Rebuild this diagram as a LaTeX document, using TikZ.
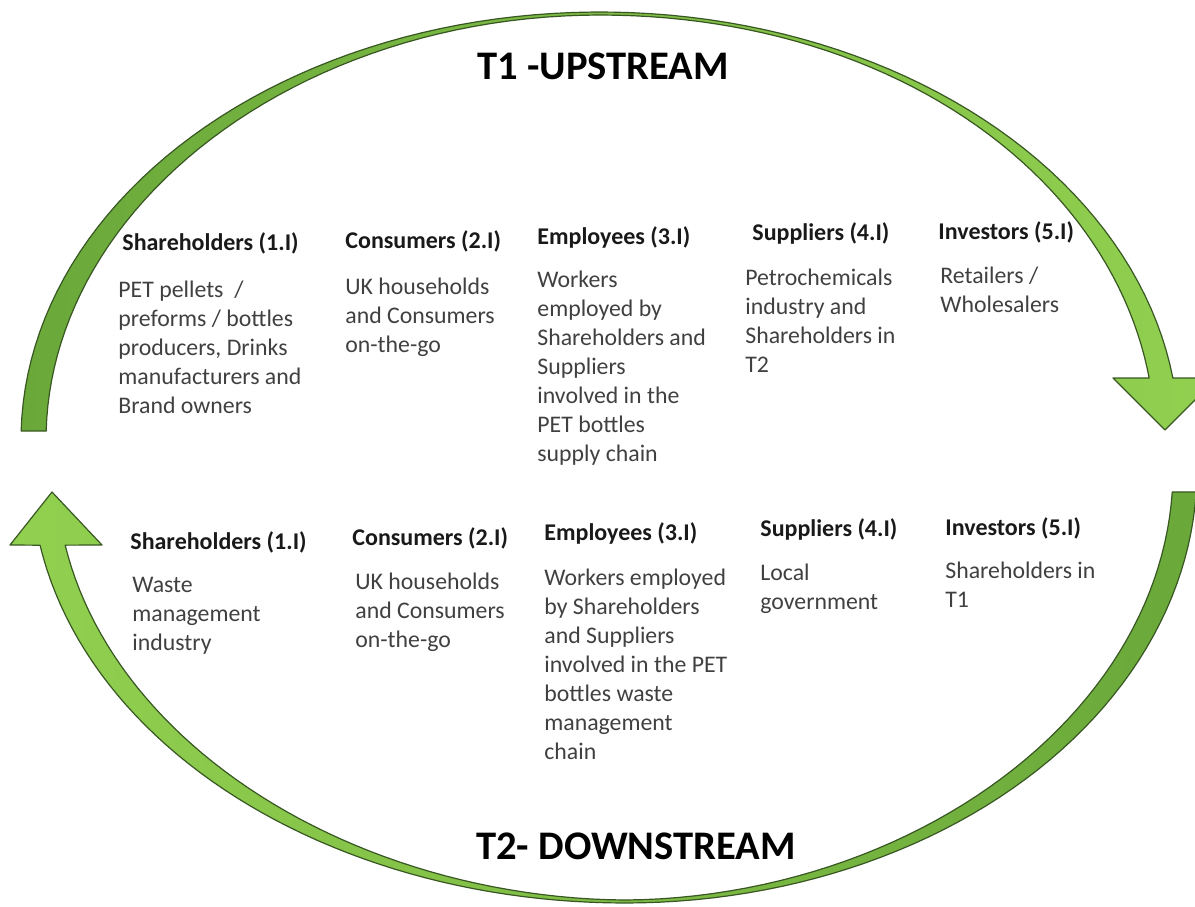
\documentclass[tikz,border=0pt]{standalone}
\usepackage{fontspec}
\setmainfont{Carlito}
\definecolor{dkgreen}{RGB}{106,168,58}
\definecolor{ltgreen}{RGB}{146,208,80}
\definecolor{edgegreen}{RGB}{56,87,35}
\definecolor{bodygray}{RGB}{64,64,64}
\begin{document}
\begin{tikzpicture}[x=0.5pt,y=-0.5pt,
  band/.style={draw=edgegreen,line width=0.6pt,line join=round},
  head/.style={anchor=base west,inner sep=0pt,font=\fontsize{12}{14.5}\selectfont\bfseries,text=black!90},
  body/.style={anchor=north west,inner sep=0pt,align=left,font=\fontsize{11.9}{14.5}\selectfont,text=bodygray},
  title/.style={anchor=base,inner sep=0pt,font=\fontsize{20.3}{24}\selectfont\bfseries,text=black}]
\useasboundingbox (0,0) rectangle (1195,906);
\clip (0,0) rectangle (1195,906);
% top band (T1 upstream): outer ellipse centre (600,440), radii 579 x 428
\shadedraw[band,left color=dkgreen,right color=ltgreen]
  plot[domain=178.8:8.33,samples=90,variable=\t] ({600+579*cos(\t)},{440-428*sin(\t)})
  -- (1217,378) -- (1165,430) -- (1113,378)
  -- plot[domain=8.81:90,samples=50,variable=\t] ({600+(579-(3+21*pow(abs(cos(\t)),3)))*cos(\t)},{440-(428-(3+21*pow(abs(cos(\t)),3)))*sin(\t)})
  -- plot[domain=90:178.72,samples=50,variable=\t] ({600+(579-(3+22*pow(cos(\t),2)))*cos(\t)},{440-(428-(3+22*pow(cos(\t),2)))*sin(\t)})
  -- cycle;
% bottom band (T2 downstream): outer ellipse centre (625,470)
\shadedraw[band,left color=ltgreen,right color=dkgreen]
  plot[domain=2.91:90,samples=50,variable=\t] ({625+572*cos(\t)},{470+433*sin(\t)})
  -- plot[domain=90:170,samples=50,variable=\t] ({625+594*cos(\t)},{470+433*sin(\t)})
  -- (10,545) -- (52,492) -- (102,545)
  -- plot[domain=169.4:90,samples=50,variable=\t] ({625+(594-(3+22*pow(abs(cos(\t)),1.5)))*cos(\t)},{470+(433-(3+22*pow(abs(cos(\t)),1.5)))*sin(\t)})
  -- plot[domain=90:3.08,samples=50,variable=\t] ({625+(572-(3+21*pow(abs(cos(\t)),1.5)))*cos(\t)},{470+(433-(3+21*pow(abs(cos(\t)),1.5)))*sin(\t)})
  -- cycle;
% titles
\node[title] (t1) at (603,79) {T1 -UPSTREAM};
\node[title] (t2) at (636,859) {T2- DOWNSTREAM};
% top row
\node[head] (h11) at (122,250) {Shareholders (1.I)};
\node[head] (h12) at (345,248) {Consumers (2.I)};
\node[head] (h13) at (537,244) {Employees (3.I)};
\node[head] (h14) at (752,240) {Suppliers (4.I)};
\node[head] (h15) at (938,239) {Investors (5.I)};
\node[body] (b11) at (118,277) {\strut PET pellets\ \ /\\preforms / bottles\\producers, Drinks\\manufacturers and\\Brand owners};
\node[body] (b12) at (345,274) {\strut UK households\\and Consumers\\on-the-go};
\node[body] (b13) at (537,267) {\strut Workers\\employed\ by\\Shareholders and\\Suppliers\\involved in the\\PET bottles\\supply chain};
\node[body] (b14) at (745,265) {\strut Petrochemicals\\industry and\\Shareholders in\\T2};
\node[body] (b15) at (940,263) {\strut Retailers\ /\\Wholesalers};
% bottom row
\node[head] (h21) at (130,549) {Shareholders (1.I)};
\node[head] (h22) at (352,545) {Consumers (2.I)};
\node[head] (h23) at (544,540) {Employees (3.I)};
\node[head] (h24) at (760,536) {Suppliers (4.I)};
\node[head] (h25) at (945,535) {Investors (5.I)};
\node[body] (b21) at (132,572) {\strut Waste\\management\\industry};
\node[body] (b22) at (355,569) {\strut UK households\\and Consumers\\on-the-go};
\node[body] (b23) at (544,565) {\strut Workers employed\\by Shareholders\\and Suppliers\\involved in the PET\\bottles waste\\management\\chain};
\node[body] (b24) at (760,560) {\strut Local\\government};
\node[body] (b25) at (945,558) {\strut Shareholders in\\T1};
\end{tikzpicture}
\end{document}
